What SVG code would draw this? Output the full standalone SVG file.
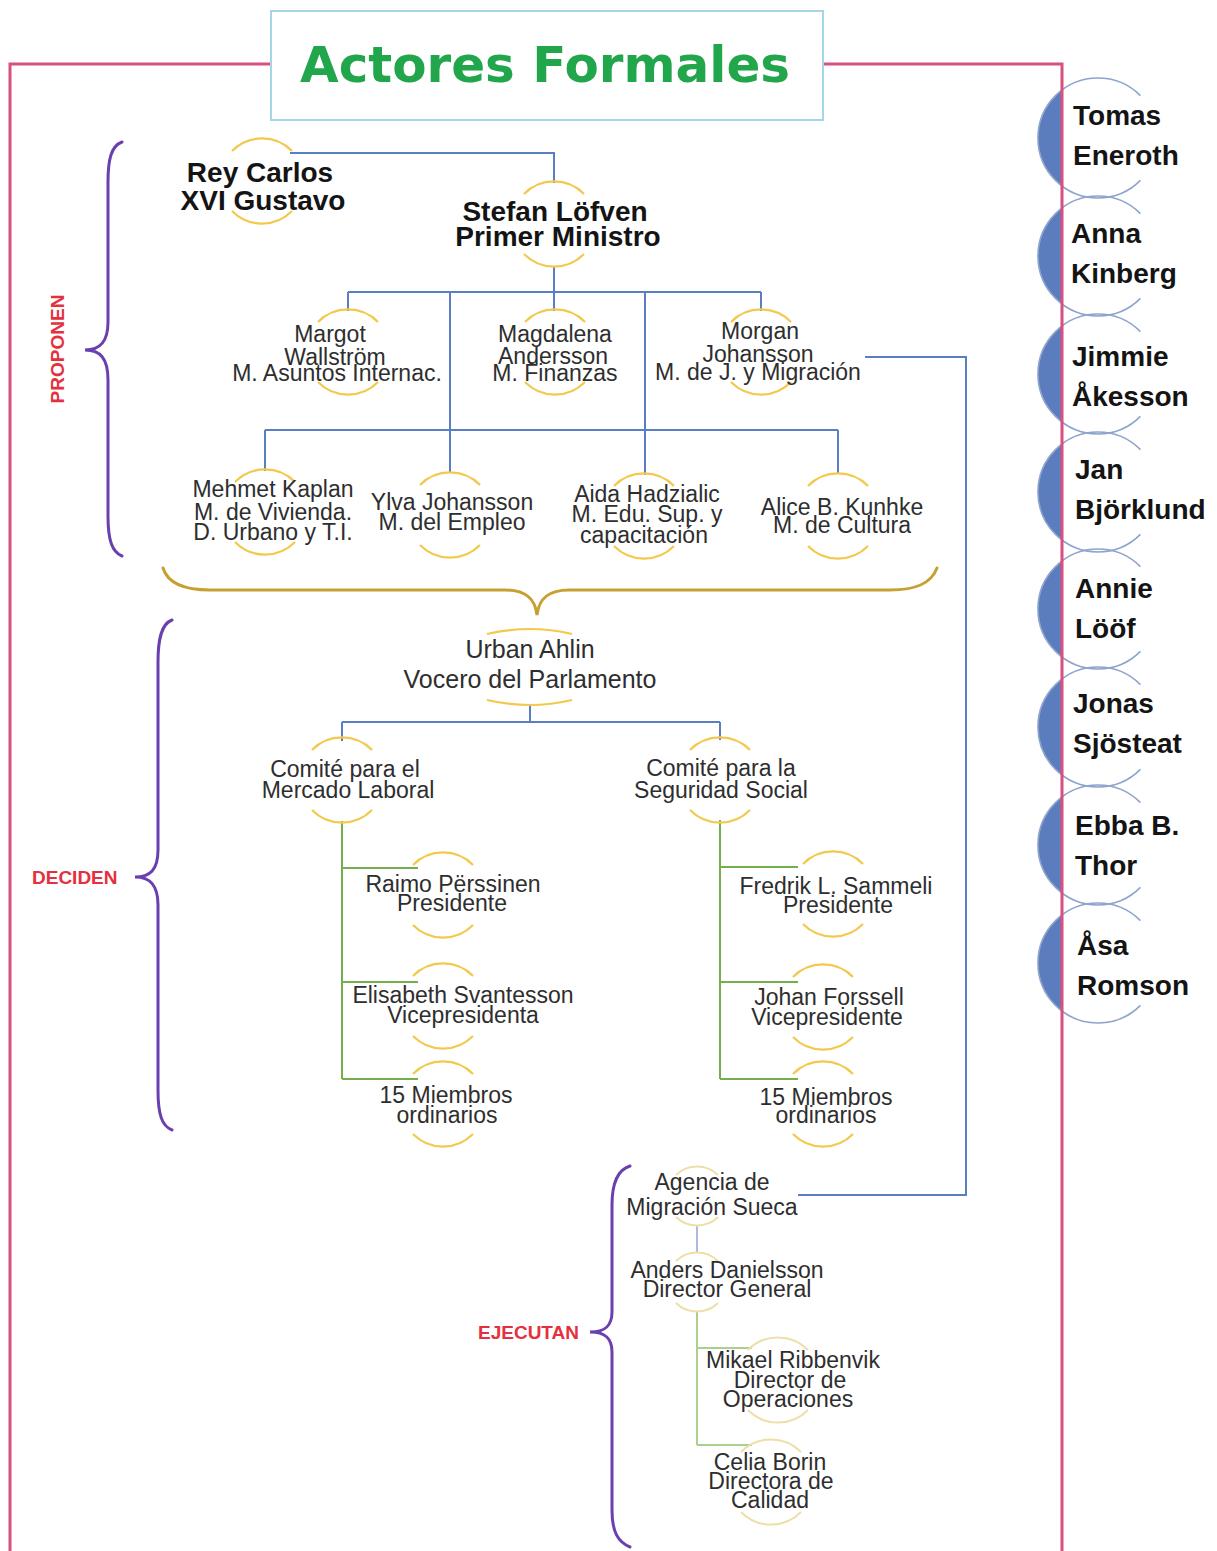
<svg xmlns="http://www.w3.org/2000/svg" width="1217" height="1551" viewBox="0 0 1217 1551">
<style>
  .frame{fill:none;stroke:#d84f80;stroke-width:3}
  .tbox{fill:#fff;stroke:#a6d6e6;stroke-width:2}
  .title{font-family:"DejaVu Sans",sans-serif;font-weight:bold;font-size:50px;fill:#22a64b;text-anchor:middle}
  .blue{fill:none;stroke:#5b7dc4;stroke-width:2}
  .green{fill:none;stroke:#75af4c;stroke-width:2}
  .pale-blue{fill:none;stroke:#a9bce0;stroke-width:2}
  .pale-green{fill:none;stroke:#a9d08e;stroke-width:2}
  .arc{fill:none;stroke:#f2c94c;stroke-width:2.2}
  .arc-pale{fill:none;stroke:#eedfa8;stroke-width:2}
  .brace{fill:none;stroke:#6a3fb0;stroke-width:3;stroke-linecap:round}
  .brace-gold{fill:none;stroke:#c7a032;stroke-width:3;stroke-linecap:round}
  .lbl{font-family:"Liberation Sans",Arial,sans-serif;font-weight:bold;font-size:19px;fill:#e5303d}
  .t{font-family:"Liberation Sans",Arial,sans-serif;font-size:23px;fill:#2e2e2e;text-anchor:middle}
  .t25{font-size:25px}
  .tb{font-family:"Liberation Sans",Arial,sans-serif;font-size:28px;font-weight:bold;fill:#141414;text-anchor:middle}
  .side{font-family:"Liberation Sans",Arial,sans-serif;font-size:28px;font-weight:bold;fill:#141414}
  .sfill{fill:#5b7dbd}
  .sarc{fill:none;stroke:#8ea4cc;stroke-width:1.6}
</style>
<defs>
  <!-- top and bottom arcs framing a node label -->
  <path id="ring" d="M-30,-30 A42,42 0 0,1 30,-30 M-30,30 A42,42 0 0,0 30,30"/>
  <path id="ringS" d="M-21,-21 A30,30 0 0,1 21,-21 M-21,21 A30,30 0 0,0 21,21"/>
  <!-- half-filled disc on the right edge -->
  <g id="sideDisc">
    <path class="sfill" d="M-36,-48 A60,60 0 0,0 -36,48 Z"/>
    <path class="sarc" d="M42.4,-42.4 A60,60 0 1,0 42.4,42.4"/>
  </g>
</defs>

<rect x="0" y="0" width="1217" height="1551" fill="#fff"/>

<!-- side column of party leaders -->
<g id="side-discs">
  <use href="#sideDisc" x="1098" y="138"/>
  <use href="#sideDisc" x="1098" y="256"/>
  <use href="#sideDisc" x="1098" y="374"/>
  <use href="#sideDisc" x="1098" y="492"/>
  <use href="#sideDisc" x="1098" y="609"/>
  <use href="#sideDisc" x="1098" y="727"/>
  <use href="#sideDisc" x="1098" y="845"/>
  <use href="#sideDisc" x="1098" y="963"/>
</g>

<!-- outer frame -->
<path class="frame" d="M272,64 H10 V1551 M822,64 H1062 V1551"/>

<!-- title -->
<g id="title">
  <rect class="tbox" x="271" y="11" width="552" height="109"/>
  <text class="title" x="545" y="82">Actores Formales</text>
</g>

<g id="side-names">
  <text class="side" x="1073"><tspan x="1073" y="125">Tomas</tspan><tspan x="1073" y="165">Eneroth</tspan></text>
  <text class="side"><tspan x="1071" y="243">Anna</tspan><tspan x="1071" y="283">Kinberg</tspan></text>
  <text class="side"><tspan x="1072" y="366">Jimmie</tspan><tspan x="1072" y="406">Åkesson</tspan></text>
  <text class="side"><tspan x="1075" y="479">Jan</tspan><tspan x="1075" y="519">Björklund</tspan></text>
  <text class="side"><tspan x="1075" y="598">Annie</tspan><tspan x="1075" y="638">Lööf</tspan></text>
  <text class="side"><tspan x="1073" y="713">Jonas</tspan><tspan x="1073" y="753">Sjösteat</tspan></text>
  <text class="side"><tspan x="1075" y="835">Ebba B.</tspan><tspan x="1075" y="875">Thor</tspan></text>
  <text class="side"><tspan x="1077" y="955">Åsa</tspan><tspan x="1077" y="995">Romson</tspan></text>
</g>

<!-- braces and stage labels -->
<g id="braces">
  <path class="brace" d="M122,142 C111,146 108,160 108,182 L108,322 C108,342 100,350 85,350 C100,350 108,358 108,380 L108,516 C108,540 112,552 122,556"/>
  <text class="lbl" transform="translate(64,349) rotate(-90)" text-anchor="middle">PROPONEN</text>
  <path class="brace" d="M172,620 C161,624 158,640 158,662 L158,850 C158,870 150,877 135,877 C150,877 158,885 158,905 L158,1090 C158,1115 162,1126 172,1130"/>
  <text class="lbl" x="32" y="884">DECIDEN</text>
  <path class="brace" d="M630,1166 C617,1170 612,1185 612,1205 L612,1312 C612,1326 605,1332 590,1332 C605,1332 612,1338 612,1352 L612,1510 C612,1532 618,1542 630,1547"/>
  <text class="lbl" x="478" y="1339">EJECUTAN</text>
  <path class="brace-gold" d="M163,568 C168,584 185,590 210,590 L505,590 C525,590 535,598 537,615 C539,598 549,590 569,590 L890,590 C915,590 931,584 937,568"/>
</g>

<!-- connectors -->
<g id="connectors">
  <path class="blue" d="M290,153 H554 V183"/>
  <path class="blue" d="M554,266 V311"/>
  <path class="blue" d="M348,292 H761"/>
  <path class="blue" d="M348,292 V311 M761,292 V311"/>
  <path class="blue" d="M450,292 V473 M645,292 V475"/>
  <path class="blue" d="M265,430 H838 M265,430 V471 M838,430 V474"/>
  <path class="blue" d="M530,706 V722 M342,722 H720 M342,722 V741 M720,722 V740"/>
  <path class="blue" d="M865,357 H966 V1195 H798"/>
  <path class="green" d="M342,821 V1079 M342,868 H418 M342,982 H418 M342,1079 H418"/>
  <path class="green" d="M720,820 V1079 M720,867 H798 M720,982 H798 M720,1079 H798"/>
  <path class="pale-blue" d="M697,1226 V1253"/>
  <path class="pale-green" d="M697,1312 V1445 M697,1348 H752 M697,1445 H752"/>
</g>

<!-- proposing level -->
<g id="node-rey">
  <use class="arc" href="#ring" x="262" y="181"/>
  <text class="tb"><tspan x="260" y="182">Rey Carlos</tspan><tspan x="263" y="210">XVI Gustavo</tspan></text>
</g>
<g id="node-lofven">
  <use class="arc" href="#ring" x="554" y="224"/>
  <text class="tb"><tspan x="555" y="221">Stefan Löfven</tspan><tspan x="558" y="246">Primer Ministro</tspan></text>
</g>
<g id="node-wallstrom">
  <use class="arc" href="#ring" x="348" y="352"/>
  <text class="t"><tspan x="330" y="342">Margot</tspan><tspan x="335" y="365">Wallström</tspan><tspan x="337" y="381">M. Asuntos Internac.</tspan></text>
</g>
<g id="node-andersson">
  <use class="arc" href="#ring" x="555" y="352"/>
  <text class="t"><tspan x="555" y="342">Magdalena</tspan><tspan x="553" y="364">Andersson</tspan><tspan x="555" y="381">M. Finanzas</tspan></text>
</g>
<g id="node-johansson-m">
  <use class="arc" href="#ring" x="761" y="352"/>
  <text class="t"><tspan x="760" y="339">Morgan</tspan><tspan x="758" y="362">Johansson</tspan><tspan x="758" y="380">M. de J. y Migración</tspan></text>
</g>
<g id="node-kaplan">
  <use class="arc" href="#ring" x="265" y="512"/>
  <text class="t"><tspan x="273" y="497">Mehmet Kaplan</tspan><tspan x="273" y="520">M. de Vivienda.</tspan><tspan x="273" y="540">D. Urbano y T.I.</tspan></text>
</g>
<g id="node-johansson-y">
  <use class="arc" href="#ring" x="450" y="515"/>
  <text class="t"><tspan x="452" y="510">Ylva Johansson</tspan><tspan x="452" y="530">M. del Empleo</tspan></text>
</g>
<g id="node-hadzialic">
  <use class="arc" href="#ring" x="644" y="516"/>
  <text class="t"><tspan x="647" y="502">Aida Hadzialic</tspan><tspan x="647" y="522">M. Edu. Sup. y</tspan><tspan x="644" y="543">capacitación</tspan></text>
</g>
<g id="node-kunhke">
  <use class="arc" href="#ring" x="838" y="516"/>
  <text class="t"><tspan x="842" y="515">Alice B. Kunhke</tspan><tspan x="842" y="533">M. de Cultura</tspan></text>
</g>

<!-- deciding level -->
<g id="node-ahlin">
  <path class="arc" d="M487,634 Q530,624 572,634 M487,700 Q530,710 572,700"/>
  <text class="t t25"><tspan x="530" y="658">Urban Ahlin</tspan><tspan x="530" y="688">Vocero del Parlamento</tspan></text>
</g>
<g id="node-mercado">
  <use class="arc" href="#ring" x="342" y="780"/>
  <text class="t"><tspan x="345" y="777">Comité para el</tspan><tspan x="348" y="798">Mercado Laboral</tspan></text>
</g>
<g id="node-seguridad">
  <use class="arc" href="#ring" x="720" y="780"/>
  <text class="t"><tspan x="721" y="776">Comité para la</tspan><tspan x="721" y="798">Seguridad Social</tspan></text>
</g>
<g id="node-perssinen">
  <use class="arc" href="#ring" x="443" y="895"/>
  <text class="t"><tspan x="453" y="892">Raimo Përssinen</tspan><tspan x="452" y="911">Presidente</tspan></text>
</g>
<g id="node-svantesson">
  <use class="arc" href="#ring" x="443" y="1006"/>
  <text class="t"><tspan x="463" y="1003">Elisabeth Svantesson</tspan><tspan x="463" y="1023">Vicepresidenta</tspan></text>
</g>
<g id="node-miembros-1">
  <use class="arc" href="#ring" x="443" y="1104"/>
  <text class="t"><tspan x="446" y="1103">15 Miembros</tspan><tspan x="447" y="1123">ordinarios</tspan></text>
</g>
<g id="node-sammeli">
  <use class="arc" href="#ring" x="833" y="894"/>
  <text class="t"><tspan x="836" y="894">Fredrik L. Sammeli</tspan><tspan x="838" y="913">Presidente</tspan></text>
</g>
<g id="node-forssell">
  <use class="arc" href="#ring" x="823" y="1007"/>
  <text class="t"><tspan x="829" y="1005">Johan Forssell</tspan><tspan x="827" y="1025">Vicepresidente</tspan></text>
</g>
<g id="node-miembros-2">
  <use class="arc" href="#ring" x="823" y="1104"/>
  <text class="t"><tspan x="826" y="1105">15 Miembros</tspan><tspan x="826" y="1123">ordinarios</tspan></text>
</g>

<!-- executing level -->
<g id="node-agencia">
  <use class="arc-pale" href="#ringS" x="697" y="1196"/>
  <text class="t"><tspan x="712" y="1190">Agencia de</tspan><tspan x="712" y="1215">Migración Sueca</tspan></text>
</g>
<g id="node-danielsson">
  <use class="arc-pale" href="#ringS" x="697" y="1282"/>
  <text class="t"><tspan x="727" y="1278">Anders Danielsson</tspan><tspan x="727" y="1297">Director General</tspan></text>
</g>
<g id="node-ribbenvik">
  <use class="arc-pale" href="#ring" x="778" y="1380"/>
  <text class="t"><tspan x="793" y="1368">Mikael Ribbenvik</tspan><tspan x="790" y="1388">Director de</tspan><tspan x="788" y="1407">Operaciones</tspan></text>
</g>
<g id="node-borin">
  <use class="arc-pale" href="#ring" x="771" y="1482"/>
  <text class="t"><tspan x="770" y="1470">Celia Borin</tspan><tspan x="771" y="1489">Directora de</tspan><tspan x="770" y="1508">Calidad</tspan></text>
</g>
</svg>
